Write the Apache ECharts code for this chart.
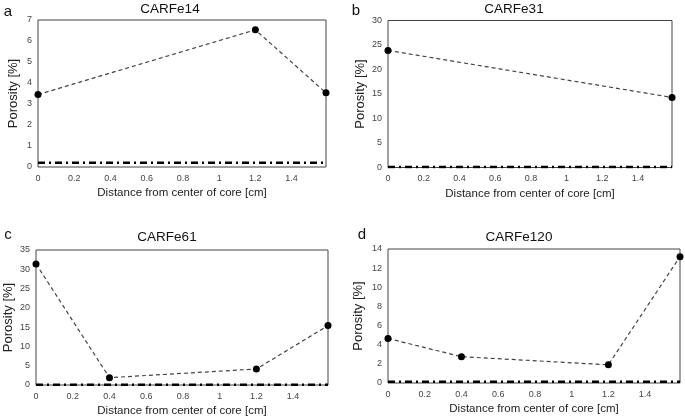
<!DOCTYPE html>
<html>
<head>
<meta charset="utf-8">
<script src="https://cdn.jsdelivr.net/npm/echarts@6/dist/echarts.min.js"></script>
<style>html,body{margin:0;padding:0;background:#fff;}#c{width:685px;height:420px;}</style>
</head>
<body>
<div id="c"></div>
<script>
// Data
const titles = ['CARFe14', 'CARFe31', 'CARFe61', 'CARFe120'];
const letters = ['a', 'b', 'c', 'd'];
const xA = [0, 1.2, 1.59];
const yA = [3.45, 6.53, 3.53];
const xB = [0, 1.59];
const yB = [23.9, 14.3];
const xC = [0, 0.4, 1.2, 1.59];
const yC = [31.4, 1.9, 4.15, 15.4];
const xD = [0, 0.4, 1.2, 1.59];
const yD = [4.65, 2.75, 1.9, 13.2];
const baseX = [0, 1.59];
const baseVals = [0.2, 0.08, 0.08, 0.12];
const yMax = [7, 30, 35, 14];
const yInterval = [1, 5, 5, 2];
const xMax = 1.59;
const xInterval = 0.2;
const xName = 'Distance from center of core [cm]';
const yName = 'Porosity [%]';

const xs = [xA, xB, xC, xD];
const ys = [yA, yB, yC, yD];

const grids = [
  {left: 38, top: 20, width: 288, height: 147},
  {left: 388, top: 20.5, width: 284, height: 147},
  {left: 36, top: 250, width: 292, height: 135},
  {left: 388, top: 249, width: 292, height: 134}
];
const titlePos = [[170, 9], [514, 9], [167, 237], [519, 237]];
const letterPos = [[8, 12], [356, 11], [8, 235], [362, 235]];
const yNameGap = [18, 21, 21, 23];

const FONT = 'Liberation Sans, Arial, sans-serif';
const chart = echarts.init(document.getElementById('c'), null, {renderer: 'canvas'});

const option = {
  animation: false,
  backgroundColor: '#fff',
  grid: grids.map(g => Object.assign({show: true, borderColor: '#444', borderWidth: 1, backgroundColor: 'transparent'}, g)),
  graphic: [].concat(
    titles.map((t, i) => ({type: 'text', x: titlePos[i][0], y: titlePos[i][1], style: {text: t, font: '13.5px ' + FONT, fill: '#111', textAlign: 'center', textVerticalAlign: 'middle'}})),
    letters.map((t, i) => ({type: 'text', x: letterPos[i][0], y: letterPos[i][1], style: {text: t, font: '15px ' + FONT, fill: '#111', textAlign: 'center', textVerticalAlign: 'middle'}}))
  ),
  xAxis: grids.map((g, i) => ({
    type: 'value', gridIndex: i, min: 0, max: xMax, interval: xInterval,
    name: xName, nameLocation: 'middle', nameGap: 20,
    nameTextStyle: {fontFamily: FONT, fontSize: 11.5, color: '#222'},
    axisLine: {show: false}, axisTick: {show: false}, splitLine: {show: false},
    axisLabel: {fontFamily: FONT, fontSize: 9, color: '#444', margin: 7, showMaxLabel: false,
      formatter: v => (Math.abs(v / xInterval - Math.round(v / xInterval)) < 1e-6 ? String(Math.round(v * 10) / 10) : '')}
  })),
  yAxis: grids.map((g, i) => ({
    type: 'value', gridIndex: i, min: 0, max: yMax[i], interval: yInterval[i],
    name: yName, nameLocation: 'middle', nameGap: yNameGap[i],
    nameTextStyle: {fontFamily: FONT, fontSize: 13, color: '#222'},
    axisLine: {show: false}, axisTick: {show: false}, splitLine: {show: false},
    axisLabel: {fontFamily: FONT, fontSize: 9, color: '#444', margin: 6}
  })),
  series: [].concat(
    xs.map((xv, i) => ({
      type: 'line', xAxisIndex: i, yAxisIndex: i,
      data: xv.map((x, j) => [x, ys[i][j]]),
      symbol: 'circle', symbolSize: 7,
      itemStyle: {color: '#000'},
      lineStyle: {color: '#444', width: 1.2, type: [4, 3]},
      z: 3
    })),
    baseVals.map((b, i) => ({
      type: 'line', xAxisIndex: i, yAxisIndex: i,
      data: baseX.map(x => [x, b]),
      symbol: 'none',
      lineStyle: {color: '#000', width: 2.5, type: [7, 4, 2, 4]},
      z: 2
    }))
  )
};
chart.setOption(option);
</script>
</body>
</html>
